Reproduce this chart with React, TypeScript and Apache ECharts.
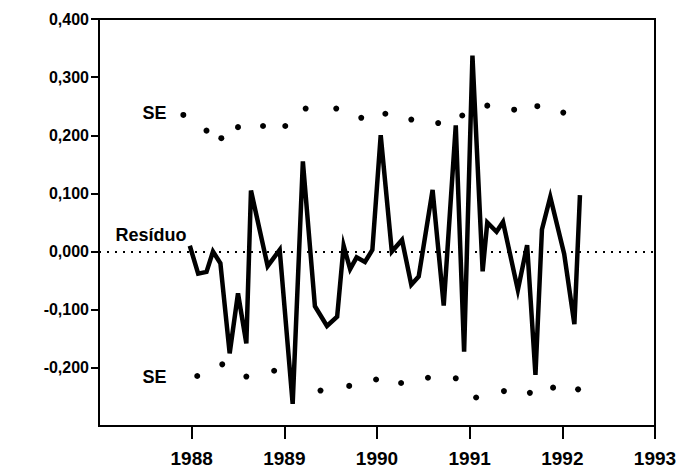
import React, { useEffect, useRef } from "react";
import * as echarts from "echarts";

const yearTicks = [1988, 1989, 1990, 1991, 1992, 1993];
const valueTicks = [-0.2, -0.1, 0, 0.1, 0.2, 0.3, 0.4];

// residual line: vertices (decimal year, value)
const residuoX = [
  1987.98, 1988.07, 1988.16, 1988.23, 1988.31, 1988.41, 1988.5, 1988.59, 1988.64, 1988.82,
  1988.95, 1989.09, 1989.2, 1989.33, 1989.46, 1989.57, 1989.64, 1989.71, 1989.78, 1989.87,
  1989.95, 1990.04, 1990.16, 1990.27, 1990.37, 1990.45, 1990.6, 1990.72, 1990.85, 1990.94,
  1991.03, 1991.14, 1991.19, 1991.29, 1991.36, 1991.52, 1991.62, 1991.71, 1991.78, 1991.87,
  1992.02, 1992.13, 1992.19,
];
const residuoY = [
  0.01, -0.038, -0.035, 0.0, -0.02, -0.175, -0.072, -0.158, 0.105, -0.025,
  0.003, -0.262, 0.155, -0.094, -0.128, -0.112, 0.01, -0.03, -0.01, -0.018,
  0.003, 0.2, 0.0, 0.02, -0.057, -0.043, 0.106, -0.093, 0.217, -0.172,
  0.337, -0.034, 0.05, 0.034, 0.051, -0.066, 0.011, -0.212, 0.038, 0.094,
  -0.004, -0.125, 0.097,
];

const seUpperX = [1987.91, 1988.16, 1988.32, 1988.5, 1988.77, 1989.01, 1989.23, 1989.56, 1989.83, 1990.09, 1990.37, 1990.66, 1990.92, 1991.19, 1991.48, 1991.73, 1992.01];
const seUpperY = [0.235, 0.208, 0.195, 0.214, 0.216, 0.216, 0.246, 0.246, 0.23, 0.237, 0.227, 0.221, 0.234, 0.251, 0.244, 0.25, 0.239];
const seLowerX = [1988.06, 1988.33, 1988.59, 1988.89, 1989.39, 1989.7, 1989.99, 1990.26, 1990.55, 1990.85, 1991.07, 1991.37, 1991.65, 1991.9, 1992.17];
const seLowerY = [-0.214, -0.194, -0.215, -0.205, -0.239, -0.231, -0.22, -0.226, -0.217, -0.218, -0.251, -0.24, -0.243, -0.234, -0.237];

const annotations = [
  { name: "SE", x: 1987.6, y: 0.238 },
  { name: "Resíduo", x: 1987.56, y: 0.028 },
  { name: "SE", x: 1987.6, y: -0.216 },
];

const FONT = "'Liberation Sans', Arial, Helvetica, sans-serif";

function fmt(v: number) {
  const s = Math.abs(v).toFixed(3).replace(".", ",");
  return (v < -1e-9 ? "-" : "") + s;
}

export default function App() {
  const ref = useRef<HTMLDivElement>(null);
  useEffect(() => {
    if (!ref.current) return;
    const chart = echarts.init(ref.current, null, { renderer: "svg" });
    chart.setOption({
      animation: false,
      backgroundColor: "#fff",
      grid: {
        left: 99,
        right: 26,
        top: 19,
        bottom: 46,
        show: true,
        borderColor: "#000",
        borderWidth: 2,
        backgroundColor: "transparent",
      },
      xAxis: {
        type: "value",
        min: 1987,
        max: 1993,
        interval: 1,
        splitLine: { show: false },
        axisLine: { show: true, onZero: false, lineStyle: { color: "#000", width: 2 } },
        axisTick: { show: true, length: 13, customValues: yearTicks, lineStyle: { color: "#000", width: 2 } },
        axisLabel: {
          customValues: yearTicks,
          formatter: (v: number) => String(Math.round(v)),
          color: "#000",
          fontFamily: FONT,
          fontWeight: "bold",
          fontSize: 19,
          margin: 23,
        },
      },
      yAxis: {
        type: "value",
        min: -0.3,
        max: 0.4,
        interval: 0.1,
        splitLine: { show: false },
        axisLine: { show: true, onZero: false, lineStyle: { color: "#000", width: 2 } },
        axisTick: { show: true, length: 8, customValues: valueTicks, lineStyle: { color: "#000", width: 2 } },
        axisLabel: {
          customValues: valueTicks,
          formatter: (v: number) => fmt(v),
          color: "#000",
          fontFamily: FONT,
          fontWeight: "bold",
          fontSize: 16,
          margin: 10,
        },
      },
      series: [
        {
          type: "line",
          name: "Resíduo",
          data: residuoX.map((x, i) => [x, residuoY[i]]),
          showSymbol: false,
          symbol: "none",
          lineStyle: { color: "#000", width: 4.5, join: "miter", miterLimit: 6 },
          z: 5,
          markLine: {
            silent: true,
            symbol: "none",
            label: { show: false },
            lineStyle: { color: "#000", width: 2, type: [2, 6] },
            data: [{ yAxis: 0 }],
            z: 1,
          },
        },
        {
          type: "scatter",
          name: "SE+",
          data: seUpperX.map((x, i) => [x, seUpperY[i]]),
          symbol: "circle",
          symbolSize: 6,
          itemStyle: { color: "#000", opacity: 1 },
        },
        {
          type: "scatter",
          name: "SE-",
          data: seLowerX.map((x, i) => [x, seLowerY[i]]),
          symbol: "circle",
          symbolSize: 6,
          itemStyle: { color: "#000", opacity: 1 },
        },
        {
          type: "scatter",
          name: "labels",
          data: annotations.map((a) => ({ name: a.name, value: [a.x, a.y] })),
          symbolSize: 0,
          silent: true,
          itemStyle: { opacity: 1 },
          label: {
            show: true,
            position: "inside",
            formatter: "{b}",
            color: "#000",
            fontFamily: FONT,
            fontWeight: "bold",
            fontSize: 18,
          },
        },
      ],
    });
    return () => chart.dispose();
  }, []);
  return (
    <div
      ref={ref}
      style={{ position: "fixed", left: 0, top: 0, width: 681, height: 472, background: "#fff" }}
    />
  );
}
